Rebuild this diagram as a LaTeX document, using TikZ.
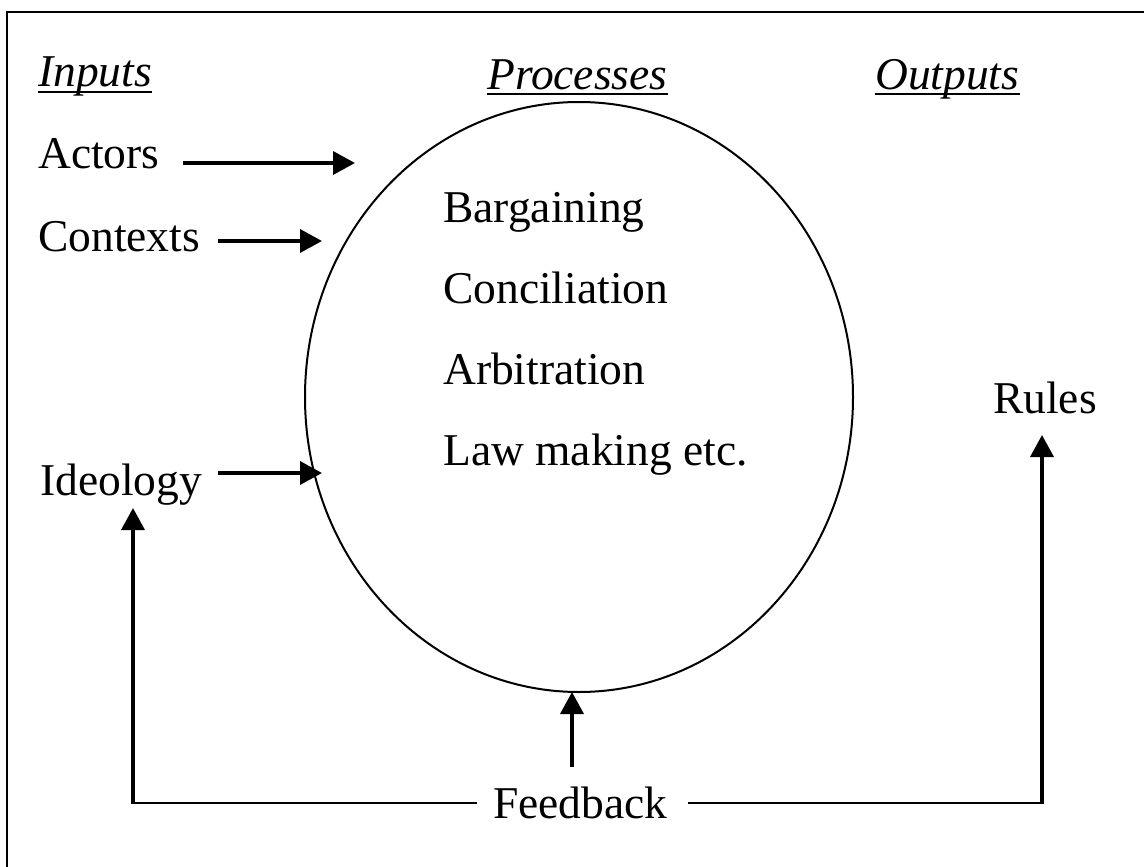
\documentclass[tikz,border=0pt]{standalone}
\usepackage{fontspec}
\setmainfont{Liberation Serif}
\usetikzlibrary{arrows.meta,shapes.geometric}
\begin{document}
\begin{tikzpicture}[x=1pt,y=-1pt,
 txt/.style={inner sep=0pt, anchor=base west, font=\fontsize{45.5}{50}\selectfont},
 hdr/.style={inner sep=0pt, anchor=base west, font=\fontsize{45.5}{50}\selectfont\itshape},
 thickarrow/.style={line width=3.6pt, -{Triangle[length=22pt,width=23pt]}},
 thinline/.style={line width=2pt},
 uline/.style={line width=1.5pt},
]
\useasboundingbox (0,0) rectangle (1144,867);
\clip (0,0) rectangle (1144,867);
\draw[thinline] (7,12) rectangle (1170,890);

% headers
\node[hdr] (inp) at (38,87) {Inputs};
\node[hdr] (prc) at (487,89) {Processes};
\node[hdr] (out) at (875,89) {Outputs};
\draw[uline] ([yshift=-5pt]inp.base west) -- ([yshift=-5pt]inp.base east);
\draw[uline] ([yshift=-5pt]prc.base west) -- ([yshift=-5pt]prc.base east);
\draw[uline] ([yshift=-5pt]out.base west) -- ([yshift=-5pt]out.base east);

% process ellipse
\node[draw, ellipse, thinline, inner sep=0pt, minimum width=548pt, minimum height=590pt] (proc) at (579,397) {};
\node[txt] (barg) at (443,222) {Bargaining};
\node[txt] (conc) at (443,303) {Conciliation};
\node[txt] (arbi) at (443,384) {Arbitration};
\node[txt] (lawm) at (443,465) {Law making etc.};

% inputs
\node[txt] (act) at (38,168) {Actors};
\node[txt] (ctx) at (38,251) {Contexts};
\node[txt] (ideo) at (40,495) {Ideology};
\coordinate (actS) at (183,163);
\coordinate (actT) at (355,163);
\coordinate (ctxS) at (218,241);
\coordinate (ctxT) at (322,241);
\coordinate (ideoS) at (218,473);
\coordinate (ideoT) at (322,473);
\draw[thickarrow] (actS) -- (actT);
\draw[thickarrow] (ctxS) -- (ctxT);
\draw[thickarrow] (ideoS) -- (ideoT);

% outputs
\node[txt] (rules) at (993,413) {Rules};

% feedback
\node[txt] (fb) at (493,818) {Feedback};
\coordinate (fbL) at (477,803);
\coordinate (fbR) at (688,803);
\coordinate (botL) at (133,803);
\coordinate (botR) at (1042,803);
\coordinate (ideoUp) at (133,508);
\coordinate (rulesUp) at (1042,435);
\coordinate (fbUpS) at (572,767);
\coordinate (fbUpT) at (572,692);
\draw[thinline] (fbL) -- (botL);
\draw[thinline] (fbR) -- (botR);
\draw[thickarrow] ([yshift=-1pt]botL) -- (ideoUp);
\draw[thickarrow] ([yshift=-1pt]botR) -- (rulesUp);
\draw[thickarrow] (fbUpS) -- (fbUpT);
\end{tikzpicture}
\end{document}
